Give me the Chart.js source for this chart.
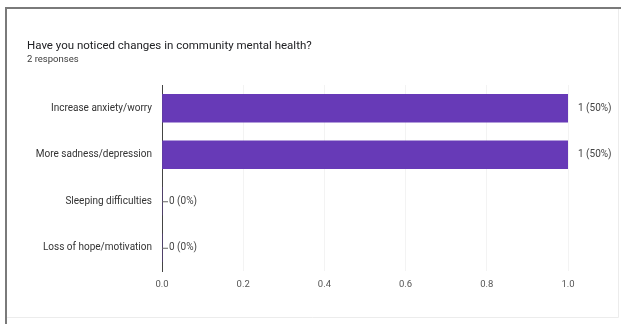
<!DOCTYPE html>
<html>
<head>
<meta charset="utf-8">
<script src="https://cdn.jsdelivr.net/npm/chart.js@4/dist/chart.umd.min.js"></script>
<style>
  html, body { margin: 0; padding: 0; background: #ffffff; }
  #wrap { position: absolute; left: 0; top: 0; width: 625px; height: 324px; }
</style>
</head>
<body>
<div id="wrap"><canvas id="chart" width="625" height="324"></canvas></div>
<script>
// Survey question and answer options
const questionTitle = 'Have you noticed changes in community mental health?';
const responseNote = '2 responses';
const totalResponses = 2;
const categories = [
  'Increase anxiety/worry',
  'More sadness/depression',
  'Sleeping difficulties',
  'Loss of hope/motivation'
];
const counts = [1, 1, 0, 0];
const tickValues = [0, 0.2, 0.4, 0.6, 0.8, 1.0];

const FONT = "Roboto, 'Liberation Sans', Arial, sans-serif";
const PURPLE = '#673ab7';

// Card frame, heading and per-bar count labels
const cardPlugin = {
  id: 'card',
  beforeDraw(chart) {
    const ctx = chart.ctx;
    ctx.save();
    ctx.fillStyle = '#ffffff';
    ctx.fillRect(0, 0, chart.width, chart.height);
    // faint right/bottom edges
    ctx.strokeStyle = '#ececec';
    ctx.lineWidth = 1;
    ctx.beginPath();
    ctx.moveTo(618.5, 9); ctx.lineTo(618.5, 317.5);
    ctx.lineTo(7, 317.5);
    ctx.stroke();
    // darker top/left edges
    ctx.fillStyle = '#7a7a7a';
    ctx.fillRect(5, 7, 616, 2);
    ctx.fillRect(5, 7, 2, 317);
    // heading
    ctx.fillStyle = '#202124';
    ctx.font = '11.5px ' + FONT;
    ctx.textBaseline = 'middle';
    ctx.textAlign = 'left';
    ctx.fillText(questionTitle, 27, 46);
    ctx.fillStyle = '#3c3c3c';
    ctx.font = '9.5px ' + FONT;
    ctx.fillText(responseNote, 27, 60);
    ctx.restore();
  },
  afterDatasetsDraw(chart) {
    const ctx = chart.ctx;
    const meta = chart.getDatasetMeta(0);
    const xScale = chart.scales.x;
    ctx.save();
    ctx.font = '10px ' + FONT;
    ctx.fillStyle = '#444';
    ctx.textBaseline = 'middle';
    ctx.textAlign = 'left';
    meta.data.forEach((bar, i) => {
      const v = counts[i];
      const pct = Math.round(v / totalResponses * 100);
      const label = v + ' (' + pct + '%)';
      const endX = xScale.getPixelForValue(v);
      if (v === 0) {
        ctx.strokeStyle = '#666';
        ctx.lineWidth = 1;
        ctx.beginPath();
        ctx.moveTo(endX, bar.y + 0.5);
        ctx.lineTo(endX + 6, bar.y + 0.5);
        ctx.stroke();
        ctx.fillText(label, endX + 7, bar.y);
      } else {
        ctx.fillText(label, endX + 10, bar.y);
      }
    });
    ctx.restore();
  }
};

new Chart(document.getElementById('chart'), {
  type: 'bar',
  data: {
    labels: categories,
    datasets: [{
      data: counts,
      backgroundColor: PURPLE,
      borderWidth: 0,
      barThickness: 28
    }]
  },
  options: {
    indexAxis: 'y',
    responsive: false,
    animation: false,
    devicePixelRatio: 1,
    layout: { padding: { left: 12, right: 57, top: 85, bottom: 27 } },
    plugins: {
      legend: { display: false },
      tooltip: { enabled: false },
      title: { display: false }
    },
    scales: {
      x: {
        min: 0,
        max: 1,
        afterBuildTicks(scale) {
          scale.ticks = tickValues.map(v => ({ value: v }));
        },
        afterFit(scale) { scale.height = 26; },
        grid: {
          color: (c) => c.tick && c.tick.value === 0 ? 'rgba(0,0,0,0)' : '#f3f3f3',
          drawTicks: false
        },
        border: { display: false },
        ticks: {
          padding: 8,
          color: '#555',
          font: { family: FONT, size: 9.5 },
          callback: (v) => Number(v).toFixed(1)
        }
      },
      y: {
        afterFit(scale) { scale.width = 150; },
        grid: { display: false, drawTicks: false },
        border: { display: true, color: '#444', width: 1 },
        ticks: {
          padding: 10,
          color: '#333',
          font: { family: FONT, size: 10 }
        }
      }
    }
  },
  plugins: [cardPlugin]
});
</script>
</body>
</html>
